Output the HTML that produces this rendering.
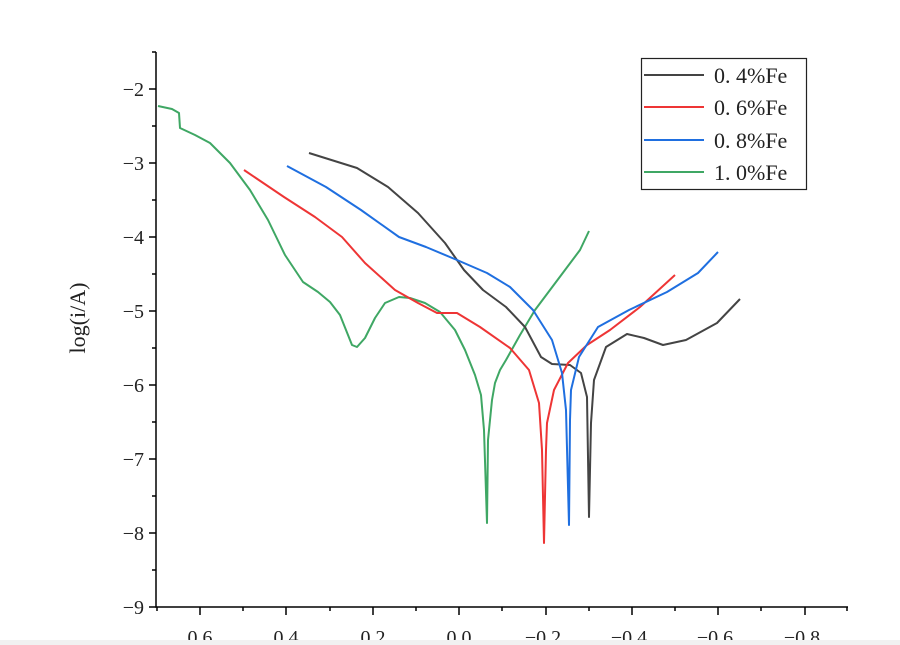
<!DOCTYPE html>
<html><head><meta charset="utf-8"><style>
html,body{margin:0;padding:0;background:#fff;width:900px;height:645px;overflow:hidden}
text{font-family:"Liberation Serif","Noto Serif CJK SC",serif;fill:#222}
</style></head><body>
<svg width="900" height="645" viewBox="0 0 900 645" xmlns="http://www.w3.org/2000/svg">
<g stroke="#000" stroke-width="1.5" fill="none">
<path d="M156,52 V607 H848"/>
<path d="M156,89h-7M156,163h-7M156,237h-7M156,311h-7M156,385h-7M156,459h-7M156,533h-7M156,607h-7"/>
<path d="M156,52h-4M156,126h-4M156,200h-4M156,274h-4M156,348h-4M156,422h-4M156,496h-4M156,570h-4"/>
<path d="M200,607v8M286,607v8M373,607v8M459,607v8M546,607v8M632,607v8M718,607v8M805,607v8"/>
<path d="M157,607v4M243,607v4M330,607v4M416,607v4M502,607v4M589,607v4M675,607v4M761,607v4M847,607v4"/>
</g>
<g font-size="20" text-anchor="end">
<text x="144" y="96">−2</text><text x="144" y="170">−3</text><text x="144" y="244">−4</text><text x="144" y="318">−5</text>
<text x="144" y="392">−6</text><text x="144" y="466">−7</text><text x="144" y="540">−8</text><text x="144" y="614">−9</text>
</g>
<g font-size="20" text-anchor="middle">
<text x="200" y="644">0.6</text><text x="286" y="644">0.4</text><text x="373" y="644">0.2</text><text x="459" y="644">0.0</text>
<text x="543" y="644">−0.2</text><text x="629" y="644">−0.4</text><text x="715" y="644">−0.6</text><text x="802" y="644">−0.8</text>
</g>
<text x="0" y="0" font-size="22" text-anchor="middle" transform="translate(85,318) rotate(-90)">log(i/A)</text>
<rect x="0" y="640" width="900" height="5" fill="#f1f1f1"/>
<g fill="none" stroke-width="2" stroke-linejoin="round">
<polyline stroke="#3fa764" points="158,106 172,109 179,113 180,128 195,135 210,143 230,163 250,190 268,220 285,255 295,270 303,282 318,292 330,302 340,315 346,330 352,345 357,347 365,338 375,318 385,303 399,297 410,298 425,303 440,312 455,330 465,350 475,375 481,395 484,430 487,523 488,440 492,400 495,383 500,370 506,360 520,335 535,310 550,290 565,270 580,250 589,231"/>
<polyline stroke="#444" points="309,153 357,168 388,187 418,213 445,243 464,270 483,290 506,307 525,327 541,357 552,364 570,365 581,373 587,397 589,517 591,423 594,380 606,347 627,334 644,338 663,345 686,340 717,323 740,299"/>
<polyline stroke="#ee3535" points="244,170 284,197 315,217 342,237 365,263 395,290 418,303 437,313 457,313 480,327 510,348 529,370 539,403 542,450 544,543 546,450 547,423 554,390 568,363 587,345 610,330 640,307 675,275"/>
<polyline stroke="#1f6fe0" points="287,166 326,187 361,210 399,237 426,247 457,260 487,273 510,287 533,310 552,340 562,373 566,410 569,525 570,420 571,390 579,357 598,327 629,310 667,292 698,273 718,252"/>
</g>
<rect x="641.5" y="58.5" width="165" height="131" fill="#fff" stroke="#222" stroke-width="1.2"/>
<g stroke-width="2">
<line x1="644" y1="75" x2="704" y2="75" stroke="#444"/>
<line x1="644" y1="107" x2="704" y2="107" stroke="#ee3535"/>
<line x1="644" y1="140" x2="704" y2="140" stroke="#1f6fe0"/>
<line x1="644" y1="172" x2="704" y2="172" stroke="#3fa764"/>
</g>
<g font-size="22">
<text x="714" y="83">0. 4%Fe</text>
<text x="714" y="115">0. 6%Fe</text>
<text x="714" y="148">0. 8%Fe</text>
<text x="714" y="180">1. 0%Fe</text>
</g>
</svg>
</body></html>
